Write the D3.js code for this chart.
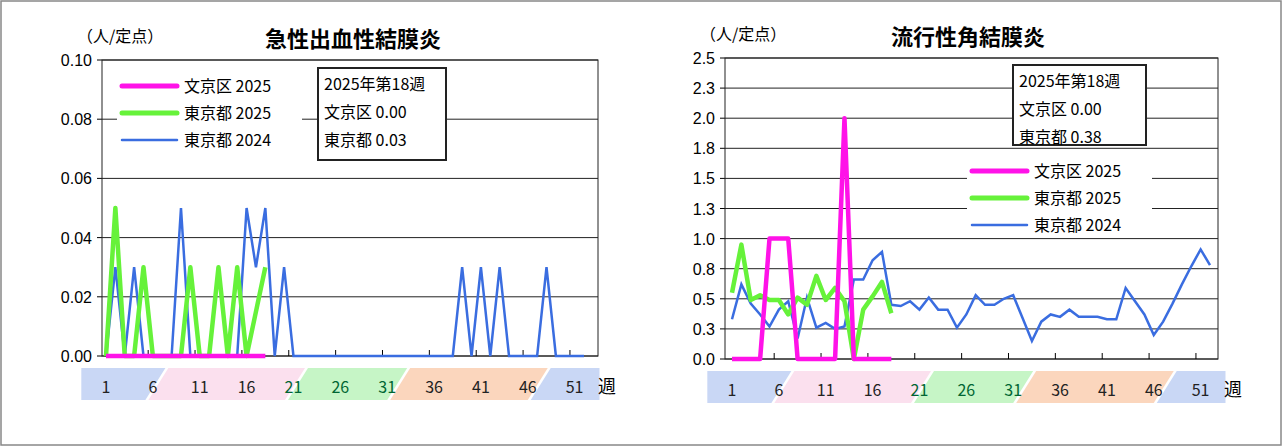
<!DOCTYPE html><html><head><meta charset="utf-8"><script src="https://cdn.jsdelivr.net/npm/d3@7"></script>
<style>body{margin:0;background:#fff}svg{font-family:"Noto Sans CJK JP","Noto Sans",sans-serif}</style></head><body><svg id="c" width="1283" height="447"></svg>
<script>
const weeks = d3.range(1,53);
const tickWeeks = [1,6,11,16,21,26,31,36,41,46,51];
// Chart 1: 急性出血性結膜炎
const c1_bunkyo2025 = [0,0,0,0,0,0,0,0,0,0,0,0,0,0,0,0,0,0];
const c1_tokyo2025 = [0,0.05,0,0,0.03,0,0,0,0,0.03,0,0,0.03,0,0.03,0,0.015,0.03];
const c1_tokyo2024 = [0,0.03,0,0.03,0,0,0,0,0.05,0,0,0,0,0,0,0.05,0.03,0.05,0,0.03,0,0,0,0,0,0,0,0,0,0,0,0,0,0,0,0,0,0,0.03,0,0.03,0,0.03,0,0,0,0,0.03,0,0,0,0];
const c1_yTicks = [0,0.02,0.04,0.06,0.08,0.10];
// Chart 2: 流行性角結膜炎
const c2_bunkyo2025 = [0,0,0,0,1,1,1,0,0,0,0,0,2,0,0,0,0,0];
const c2_tokyo2025 = [0.55,0.95,0.49,0.53,0.49,0.49,0.37,0.51,0.45,0.69,0.49,0.59,0.48,0,0.41,0.52,0.64,0.38];
const c2_tokyo2024 = [0.33,0.62,0.46,0.37,0.27,0.41,0.48,0.17,0.51,0.26,0.30,0.25,0.27,0.66,0.66,0.82,0.89,0.45,0.44,0.48,0.41,0.51,0.41,0.41,0.26,0.37,0.53,0.45,0.45,0.50,0.53,0.34,0.15,0.31,0.37,0.35,0.41,0.35,0.35,0.35,0.33,0.33,0.59,0.48,0.37,0.20,0.31,0.46,0.62,0.77,0.91,0.78];
const c2_yTicks = [0,0.25,0.5,0.75,1,1.25,1.5,1.75,2,2.25,2.5];
const c2_yLabels = ["0.0","0.3","0.5","0.8","1.0","1.3","1.5","1.8","2.0","2.3","2.5"];

const svg = d3.select("#c");
svg.append("rect").attr("x",1).attr("y",1).attr("width",1280).attr("height",444).attr("fill","#fff").attr("stroke","#888").attr("stroke-width",1.5);

function chart(o){
  const g = svg.append("g");
  const x = d3.scaleLinear().domain([1,52]).range([o.x0,o.x1]);
  const y = d3.scaleLinear().domain([0,o.ymax]).range([o.yb,o.yt]);
  // bands
  const bands=[[0.5,6.8,"#c9d7f5"],[6.8,21.7,"#fbe0ee"],[21.7,32.6,"#c6f5c6"],[32.6,47.6,"#fbd6bd"],[47.6,52.8,"#c9d7f5"]];
  const bt=o.yb+12, bb=o.yb+44, sk=10;
  bands.forEach(([a,b,c],i)=>{
    const xa=x(a)+(i==0?-20:0), xb=x(b);
    const pts = i==0 ? [[xa,bt],[xb+sk/2,bt],[xb-sk*1.5,bb],[xa,bb]] :
      [[x(a)+sk/2+3,bt],[xb+sk/2,bt],[xb-sk*1.5,bb],[x(a)-sk*1.5+3,bb]];
    if(i==bands.length-1){pts[1]=[xb+8,bt];pts[2]=[xb+8,bb];}
    g.append("polygon").attr("points",pts.map(p=>p.join(",")).join(" ")).attr("fill",c);
  });
  tickWeeks.forEach(w=>g.append("text").attr("x",x(w)).attr("y",bt+25).attr("text-anchor","middle").attr("font-size",16).attr("fill",w>=21&&w<=31?"#063":"#222").text(w));
  g.append("text").attr("x",x(52)+14).attr("y",bt+25).attr("font-size",18).text("週");
  // grid
  o.yTicks.forEach((t,i)=>{
    g.append("line").attr("x1",o.fl).attr("x2",o.fr).attr("y1",y(t)).attr("y2",y(t)).attr("stroke",i%2==0&&o.alt?"#666":"#222").attr("stroke-width",1);
    g.append("line").attr("x1",o.fl-5).attr("x2",o.fl).attr("y1",y(t)).attr("y2",y(t)).attr("stroke","#000");
    g.append("text").attr("x",o.fl-10).attr("y",y(t)+6).attr("text-anchor","end").attr("font-size",16).attr("font-family","Liberation Sans, Arial").text(o.yLabels[i]);
  });
  g.append("rect").attr("x",o.fl).attr("y",o.yt).attr("width",o.fr-o.fl).attr("height",o.yb-o.yt).attr("fill","none").attr("stroke","#222");
  tickWeeks.slice(1).forEach(w=>g.append("line").attr("x1",x(w-0.5)).attr("x2",x(w-0.5)).attr("y1",o.yb).attr("y2",o.yb-6).attr("stroke","#000"));
  const line=d3.line().x((d,i)=>x(i+1)).y(d=>y(d));
  const legG=g.append("g");
  g.append("path").attr("d",line(o.s24)).attr("fill","none").attr("stroke","#3a6de0").attr("stroke-width",2.5);
  g.append("path").attr("d",line(o.s25t)).attr("fill","none").attr("stroke","#66f23a").attr("stroke-width",4.5).attr("stroke-linejoin","round");
  g.append("path").attr("d",line(o.s25b)).attr("fill","none").attr("stroke","#ff12e8").attr("stroke-width",4.5).attr("stroke-linejoin","round");
  // legend
  const L=o.leg;
  legG.append("rect").attr("x",L.x-5).attr("y",L.y-14).attr("width",L.w).attr("height",70).attr("fill","#fff");
  [["文京区 2025","#ff12e8",5],["東京都 2025","#66f23a",5],["東京都 2024","#3a6de0",2.5]].forEach(([t,c,w],i)=>{
    legG.append("line").attr("x1",L.x).attr("x2",L.x+55).attr("y1",L.y+i*27).attr("y2",L.y+i*27).attr("stroke",c).attr("stroke-width",w).attr("stroke-linecap","round");
    legG.append("text").attr("x",L.x+62).attr("y",L.y+i*27+6).attr("font-size",16).text(t);
  });
  // info box
  const B=o.box;
  g.append("rect").attr("x",B.x).attr("y",B.y).attr("width",B.w).attr("height",B.h).attr("fill","#fff").attr("stroke","#222").attr("stroke-width",2);
  [["2025年第18週"],["文京区  "+o.v1],["東京都  "+o.v2]].forEach(([t],i)=>g.append("text").attr("x",B.x+6).attr("y",B.y+22+i*28).attr("font-size",16).text(t));
  g.append("text").attr("x",o.fl-25).attr("y",o.yt-18).attr("font-size",16).text("（人/定点）");
  g.append("text").attr("x",o.tx).attr("y",o.yt-13).attr("text-anchor","middle").attr("font-size",22).attr("font-weight","bold").text(o.title);
}
chart({x0:106,x1:584,fl:102,fr:598,yt:60,yb:356,ymax:0.1,yTicks:c1_yTicks,yLabels:c1_yTicks.map(d=>d.toFixed(2)),
  s24:c1_tokyo2024,s25t:c1_tokyo2025,s25b:c1_bunkyo2025,leg:{x:122,y:86,w:185},box:{x:318,y:68,w:128,h:92},v1:"0.00",v2:"0.03",title:"急性出血性結膜炎",tx:353});
chart({x0:732,x1:1210,fl:725,fr:1218,yt:58,yb:359,ymax:2.5,yTicks:c2_yTicks,yLabels:c2_yLabels,
  s24:c2_tokyo2024,s25t:c2_tokyo2025,s25b:c2_bunkyo2025,leg:{x:972,y:171,w:185},box:{x:1013,y:65,w:133,h:80},v1:"0.00",v2:"0.38",title:"流行性角結膜炎",tx:968});
</script></body></html>
